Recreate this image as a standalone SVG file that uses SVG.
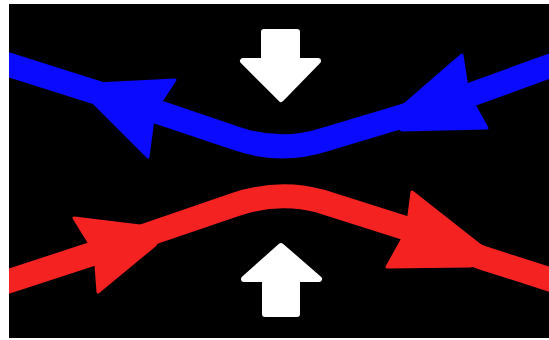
<svg xmlns="http://www.w3.org/2000/svg" width="549" height="340" viewBox="0 0 549 340">
  <style>
    .blue { stroke: #0a0aff; fill: none; stroke-width: 24; stroke-linejoin: round; stroke-linecap: butt; }
    .red { stroke: #f52222; fill: none; stroke-width: 24; stroke-linejoin: round; stroke-linecap: butt; }
    .bhead { fill: #0a0aff; stroke: #0a0aff; stroke-width: 3; stroke-linejoin: round; }
    .rhead { fill: #f52222; stroke: #f52222; stroke-width: 3; stroke-linejoin: round; }
    .white { fill: #ffffff; stroke: #ffffff; stroke-width: 6; stroke-linejoin: round; }
  </style>
  <defs>
    <clipPath id="frame">
      <rect x="9" y="4" width="540" height="334"/>
    </clipPath>
  </defs>
  <rect x="0" y="0" width="549" height="340" fill="#ffffff"/>
  <rect id="background" x="9" y="4" width="540" height="334" fill="#000000"/>
  <g id="connectors" clip-path="url(#frame)">
    <g id="blue-flow">
      <path class="blue" d="M0,62 L155,111 L235,138 Q280,154 325,139.5 L400,117 L470,95 L555,64"/>
      <polygon class="bhead" points="76,85 175,80 154,112 148,157"/>
      <polygon class="bhead" points="388,119 462,55 468,94 487,128 402,130"/>
    </g>
    <g id="red-flow">
      <path class="red" d="M0,284 L92,254 L158,231 L235,204.7 Q278,190 320,201 L405,228 L483,258 L555,281"/>
      <polygon class="rhead" points="74,218 165,229 155,245 98,292 95,252"/>
      <polygon class="rhead" points="412,192 482,247 497,260 470,266 387,267 407,231"/>
    </g>
  </g>
  <g id="arrow-down">
    <polygon class="white" points="264,32 297,32 297,61 318,61 281,99 243,61 264,61"/>
  </g>
  <g id="arrow-up">
    <polygon class="white" points="281,246 319,279 297,279 297,314 265,314 265,279 244,279"/>
  </g>
</svg>
